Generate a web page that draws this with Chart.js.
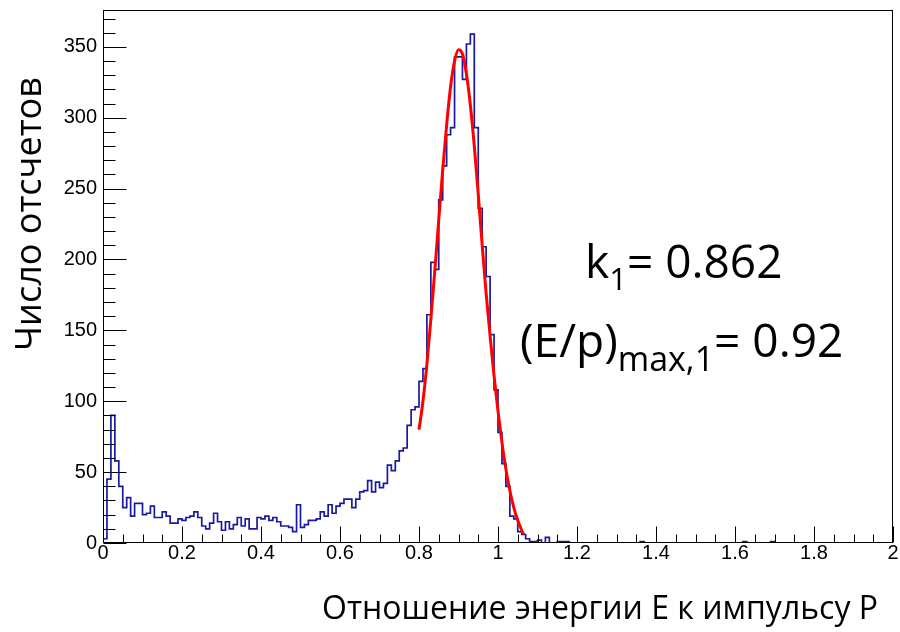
<!DOCTYPE html>
<html>
<head>
<meta charset="utf-8">
<script src="https://cdn.jsdelivr.net/npm/chart.js@4.4.1/dist/chart.umd.min.js"></script>
<style>
  html, body { margin: 0; padding: 0; background: #ffffff; }
  #wrap { width: 900px; height: 632px; }
</style>
</head>
<body>
<div id="wrap"><canvas id="chart"></canvas></div>
<script>
// Histogram: 200 bins of width 0.01 on [0, 2]
const binWidth = 0.01;
const counts = [
    3,  45,  90,  58,  40,  25,  32,  19,  28,  28,  20,  21,  26,  18,  18,  22,  19,  14,  14,  17,
   16,  18,  19,  22,  18,  12,  10,  14,  21,  15,   9,  15,  10,  13,  18,  12,  17,  10,  10,  18,
   17,  19,  16,  18,  15,  12,  12,  11,   8,  27,  11,  13,  16,  16,  17,  22,  19,  27,  21,  26,
   28,  31,  31,  25,  31,  36,  37,  44,  36,  43,  39,  42,  55,  51,  58,  65,  67,  83,  94,  96,
  114, 123, 161, 198, 193, 242, 266, 288, 293, 343, 343, 327, 352, 359, 293, 236, 209, 188, 147, 108,
   78,  56,  40,  19,  17,   8,   6,   3,   1,   1,   2,   0,   4,   0,   0,   1,   1,   1,   0,   0,
    0,   0,   0,   0,   0,   0,   0,   0,   0,   0,   0,   0,   0,   0,   0,   0,   1,   0,   0,   0,
    0,   0,   0,   0,   0,   0,   0,   0,   0,   0,   0,   0,   0,   0,   0,   0,   0,   0,   0,   0,
    0,   0,   1,   0,   0,   0,   0,   0,   0,   1,   0,   0,   0,   0,   0,   0,   0,   0,   0,   0,
    0,   0,   0,   0,   0,   0,   0,   0,   0,   0,   0,   0,   0,   0,   0,   0,   0,   0,   0,   0
];

// Fit curve (red)
const fitX = [0.80, 0.81, 0.82, 0.83, 0.84, 0.85, 0.86, 0.87, 0.88, 0.89, 0.90, 0.91, 0.92, 0.93,
              0.94, 0.95, 0.96, 0.97, 0.98, 0.99, 1.00, 1.01, 1.02, 1.03, 1.04, 1.05, 1.06, 1.065];
const fitY = [80, 100, 126, 158, 192, 228, 263, 295, 322, 340, 348, 345, 331, 309,
              280, 246, 210, 176, 146, 118, 93, 71, 52, 37, 25, 16, 9, 6];

const xMin = 0, xMax = 2, xStep = 0.2, xMinorStep = 0.05;
const yMin = 0, yMax = 376, yStep = 50, yMinorStep = 10;

const xTitle = 'Отношение энергии E к импульсу P';
const yTitle = 'Число отсчетов';

const histPoints = counts.map((c, i) => ({ x: i * binWidth, y: c }));
histPoints.push({ x: xMax, y: counts[counts.length - 1] });
const fitPoints = fitX.map((x, i) => ({ x: x, y: fitY[i] }));

const titleFont = '"Open Sans", "Noto Sans", sans-serif';

/**
 * ROOT-like frame: box around the plot, ticks pointing inwards
 */
const rootFrame = {
  id: 'rootFrame',
  afterDraw(chart) {
    const { ctx, chartArea: a, scales } = chart;
    const xs = scales.x, ys = scales.y;
    ctx.save();
    ctx.strokeStyle = '#000000';
    ctx.lineWidth = 1;
    const l = Math.round(a.left) + 0.5, r = Math.round(a.right) - 0.5;
    const t = Math.round(a.top) + 0.5, b = Math.round(a.bottom) - 0.5;
    ctx.strokeRect(l, t, r - l, b - t);

    ctx.beginPath();
    // x ticks
    const nx = Math.round((xMax - xMin) / xMinorStep);
    for (let i = 0; i <= nx; i++) {
      const v = xMin + i * xMinorStep;
      const px = Math.round(xs.getPixelForValue(v)) + 0.5;
      const major = i % Math.round(xStep / xMinorStep) === 0;
      const len = major ? 16 : 8;
      ctx.moveTo(px, b);
      ctx.lineTo(px, b - len);
    }
    // y ticks
    for (let v = yMin; v <= yMax; v += yMinorStep) {
      const py = Math.round(ys.getPixelForValue(v)) + 0.5;
      const len = v % yStep === 0 ? 23 : 12;
      ctx.moveTo(l, py);
      ctx.lineTo(l + len, py);
    }
    ctx.stroke();
    ctx.restore();
  }
};

/**
 * Axis titles and fit result labels
 */
const textLabels = {
  id: 'textLabels',
  afterDraw(chart) {
    const { ctx } = chart;
    ctx.save();
    ctx.fillStyle = '#000000';

    // y title
    ctx.save();
    ctx.translate(31, 214);
    ctx.rotate(-Math.PI / 2);
    ctx.font = '36px ' + titleFont;
    ctx.textAlign = 'center';
    ctx.textBaseline = 'middle';
    ctx.fillText(yTitle, 0, 0);
    ctx.restore();

    // x title
    ctx.font = '32px ' + titleFont;
    ctx.textAlign = 'right';
    ctx.textBaseline = 'middle';
    ctx.fillText(xTitle, 878, 610);

    // fit results
    ctx.textAlign = 'left';
    ctx.textBaseline = 'alphabetic';
    const big = '46px ' + titleFont;
    const small = '31px ' + titleFont;
    const small2 = '34px ' + titleFont;

    let x = 585;
    ctx.font = big;
    ctx.fillText('k', x, 278);
    x += ctx.measureText('k').width;
    ctx.font = small;
    ctx.fillText('1', x, 290);
    x += ctx.measureText('1').width;
    ctx.font = big;
    ctx.fillText('= 0.862', x, 278);

    x = 520;
    ctx.font = big;
    ctx.fillText('(E/p)', x, 357);
    x += ctx.measureText('(E/p)').width;
    ctx.font = small2;
    ctx.fillText('max,1', x, 371);
    x += ctx.measureText('max,1').width;
    ctx.font = big;
    ctx.fillText('= 0.92', x, 357);

    ctx.restore();
  }
};

const tickFont = { family: '"Liberation Sans", Arial, sans-serif', size: 20, lineHeight: 1 };

// keep the plot frame exactly where the reference has it
function fixPadding(scale) {
  scale.paddingTop = 0;
  scale.paddingBottom = 0;
  scale.paddingLeft = 0;
  scale.paddingRight = 0;
}

new Chart(document.getElementById('chart'), {
  type: 'line',
  data: {
    datasets: [
      {
        label: 'hist',
        data: histPoints,
        borderColor: '#1a1a9e',
        borderWidth: 1.7,
        stepped: 'before',
        pointRadius: 0,
        fill: false,
        order: 2
      },
      {
        label: 'fit',
        data: fitPoints,
        borderColor: '#ff0000',
        borderWidth: 3,
        tension: 0.4,
        cubicInterpolationMode: 'monotone',
        pointRadius: 0,
        fill: false,
        order: 1
      }
    ]
  },
  options: {
    responsive: true,
    maintainAspectRatio: false,
    animation: false,
    layout: {
      padding: { left: 0, right: 7, top: 10, bottom: 0 }
    },
    plugins: {
      legend: { display: false },
      tooltip: { enabled: false }
    },
    scales: {
      x: {
        type: 'linear',
        min: xMin,
        max: xMax,
        grid: { display: false, drawTicks: false },
        border: { display: false },
        ticks: {
          stepSize: xStep,
          maxRotation: 0,
          autoSkip: false,
          includeBounds: false,
          padding: 0,
          color: '#000000',
          font: tickFont,
          callback: (v) => String(+v.toFixed(1))
        },
        afterFit: (scale) => { scale.height = 89; fixPadding(scale); }
      },
      y: {
        type: 'linear',
        min: yMin,
        max: yMax,
        grid: { display: false, drawTicks: false },
        border: { display: false },
        ticks: {
          stepSize: yStep,
          includeBounds: false,
          padding: 6,
          color: '#000000',
          font: tickFont
        },
        afterFit: (scale) => { scale.width = 103; fixPadding(scale); }
      }
    }
  },
  plugins: [rootFrame, textLabels]
});
</script>
</body>
</html>
